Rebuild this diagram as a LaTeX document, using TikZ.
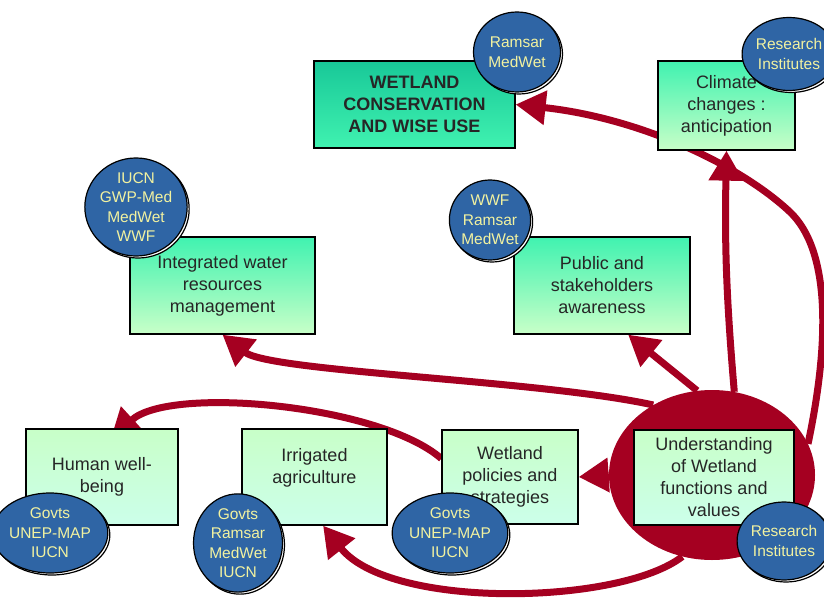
\documentclass[tikz,border=0pt]{standalone}
\usepackage{fontspec}
\setmainfont{Liberation Sans}
\usetikzlibrary{arrows.meta,shapes.geometric}
\definecolor{flowred}{HTML}{A50021}
\definecolor{orgblue}{HTML}{2F65A5}
\definecolor{orgtext}{HTML}{F2F2A0}
\definecolor{mintdark}{HTML}{18C898}
\definecolor{mintmid}{HTML}{40F2B0}
\definecolor{mintpale}{HTML}{C8FFC8}
\definecolor{mintwhite}{HTML}{CCFFEA}
\pgfdeclarelayer{back}
\pgfsetlayers{back,main}
\tikzset{
  box/.style={draw=black, line width=1.3pt, align=center, text=black!85,
    font=\fontsize{18}{22}\selectfont, inner sep=2pt},
  goalbox/.style={box, top color=mintdark, bottom color=mintmid,
    font=\bfseries\fontsize{18}{22}\selectfont},
  midbox/.style={box, top color=mintmid, bottom color=mintpale},
  lowbox/.style={box, top color=mintpale, bottom color=mintwhite},
  actor/.style={ellipse, fill=orgblue, draw=black, line width=1.2pt, text=orgtext,
    align=center, inner sep=0pt, font=\fontsize{15.5}{19.5}\selectfont,
    preaction={fill=white, draw=black, line width=1.2pt,
      transform canvas={xshift=2pt,yshift=-2pt}}},
  flow/.style={draw=flowred, line width=7pt, -{Triangle[length=30pt,width=33pt]}}
}
\begin{document}
\begin{tikzpicture}[x=1pt,y=-1pt]
\useasboundingbox (0,0) rectangle (824,599);
% hub
\node[ellipse, fill=flowred, minimum width=206pt, minimum height=170pt, inner sep=0pt] (hub) at (712,475) {};
% boxes
\node[goalbox, minimum width=201pt, minimum height=87pt] (conserv) at (414.5,104.5) {WETLAND\\CONSERVATION\\AND WISE USE};
\node[midbox, minimum width=137pt, minimum height=89pt] (climate) at (726.5,105.5) {Climate\\changes :\\anticipation};
\node[midbox, minimum width=185pt, minimum height=97pt] (iwrm) at (222.5,285.5) {Integrated water\\resources\\management};
\node[midbox, minimum width=176pt, minimum height=97pt] (aware) at (602,285.5) {Public and\\stakeholders\\awareness};
\node[lowbox, minimum width=152pt, minimum height=96pt] (human) at (102,477) {Human well-\\being};
\node[lowbox, minimum width=145pt, minimum height=96pt] (irrig) at (314.5,477) {Irrigated\\agriculture\\\mbox{}};
\node[lowbox, minimum width=136pt, minimum height=94pt] (policy) at (510,477) {Wetland\\policies and\\strategies};
\node[lowbox, minimum width=160pt, minimum height=95pt] (underst) at (714,477.5) {Understanding\\of Wetland\\functions and\\values};
% actors
\node[actor, minimum width=87pt, minimum height=80pt] (ramsarA) at (517,52) {Ramsar\\MedWet};
\node[actor, minimum width=78pt, minimum height=73pt] (resA) at (789,54) {Research\\Institutes};
\node[actor, minimum width=102pt, minimum height=86pt] (iucnA) at (136,207) {IUCN\\GWP-Med\\MedWet\\WWF};
\node[actor, minimum width=80pt, minimum height=80pt] (wwfA) at (490,220) {WWF\\Ramsar\\MedWet};
\node[actor, minimum width=80pt, minimum height=80pt] (govA) at (50,533) {Govts\\UNEP-MAP\\IUCN};
\node[actor, minimum width=89pt, minimum height=97pt] (govB) at (238,543) {Govts\\Ramsar\\MedWet\\IUCN};
\node[actor, minimum width=80pt, minimum height=80pt] (govC) at (450,533) {Govts\\UNEP-MAP\\IUCN};
\node[actor, minimum width=76pt, minimum height=78pt] (resB) at (784,541) {Research\\Institutes};
% flows
\begin{pgfonlayer}{back}
\fill[white] (0,0) rectangle (824,599);
\draw[flow] (hub.18) .. controls (830,340) and (830,250) .. (790,212)
  .. controls (740,165) and (640,118) .. (conserv.east);
\draw[flow] (hub.75) to[bend left=3] (climate.south);
\draw[flow] (hub.100) -- (aware.-62);
\draw[flow] (hub.130) .. controls (540,380) and (270,372) .. (iwrm.south);
\draw[flow] (policy.165) .. controls (380,405) and (170,385) .. ([yshift=-11pt]human.80);
\draw[flow] (hub.west) -- (policy.east);
\draw[flow] (hub.250) .. controls (620,605) and (390,610) .. (irrig.-80);
\end{pgfonlayer}
\end{tikzpicture}
\end{document}
